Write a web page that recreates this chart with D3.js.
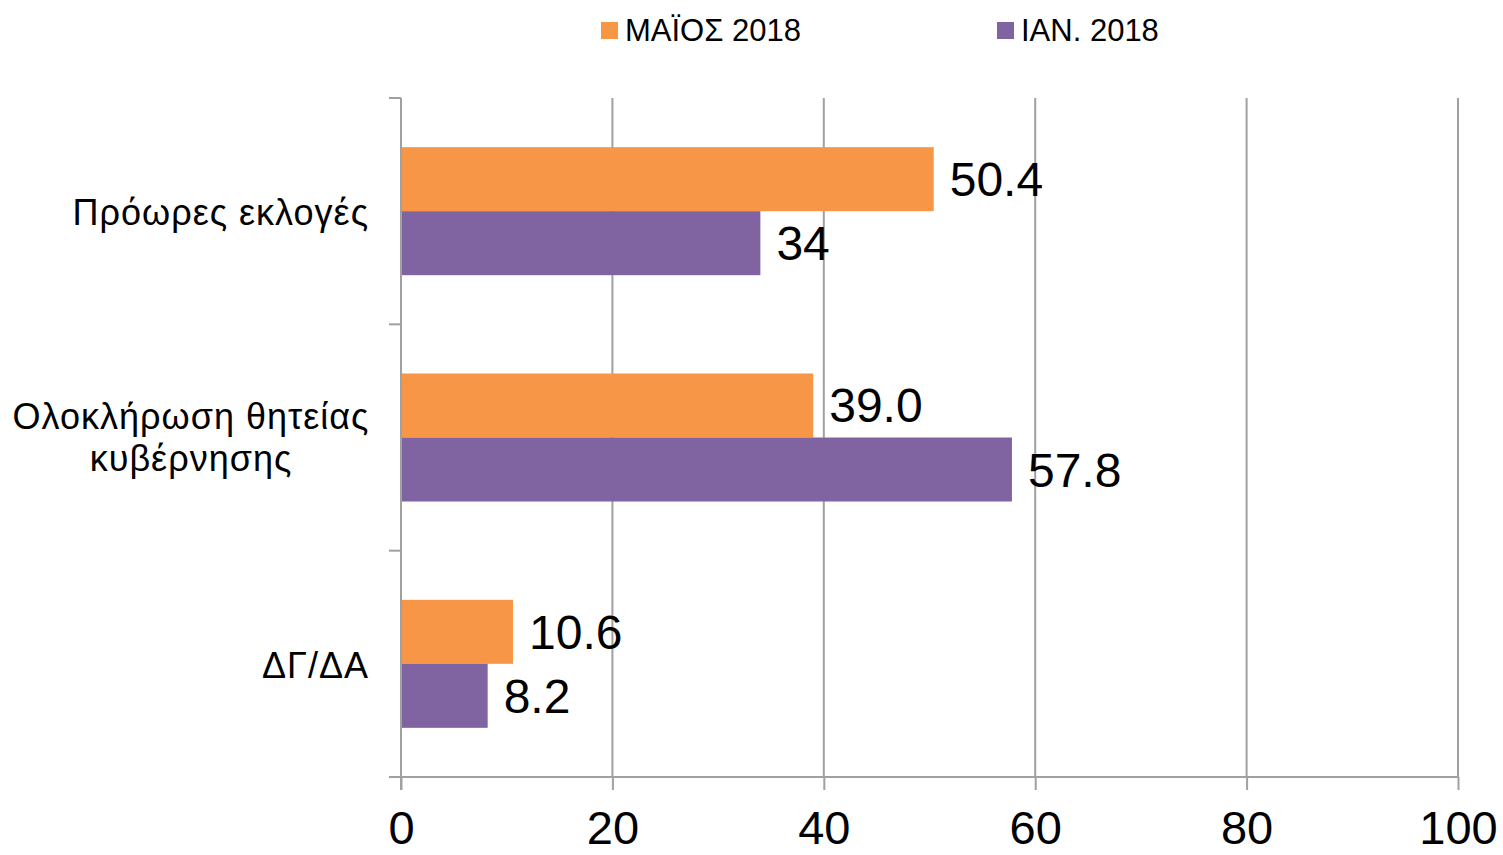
<!DOCTYPE html>
<html>
<head>
<meta charset="utf-8">
<script src="https://cdn.jsdelivr.net/npm/d3@7"></script>
<style>
  body { margin: 0; background: #fff; }
  svg { font-family: "Liberation Sans", Arial, sans-serif; }
</style>
</head>
<body>
<div id="container"></div>
<script>
// chart data
var categories = ['Πρόωρες εκλογές', 'Ολοκλήρωση θητείας κυβέρνησης', 'ΔΓ/ΔΑ'];
var categoryLines = [['Πρόωρες εκλογές'], ['Ολοκλήρωση θητείας', 'κυβέρνησης'], ['ΔΓ/ΔΑ']];
var seriesNames = ['ΜΑΪΟΣ 2018', 'ΙΑΝ. 2018'];
var may2018 = [50.4, 39.0, 10.6];
var jan2018 = [34, 57.8, 8.2];
var mayLabels = ['50.4', '39.0', '10.6'];
var janLabels = ['34', '57.8', '8.2'];
var xTicks = [0, 20, 40, 60, 80, 100];
var colors = ['#F79646', '#8064A2'];

var width = 1503, height = 855;
var margin = {top: 98, right: 45, bottom: 78, left: 401};

var svg = d3.select('#container').append('svg')
    .attr('width', width)
    .attr('height', height);

var x = d3.scaleLinear()
    .domain([0, 100])
    .range([margin.left, width - margin.right]);

var y = d3.scaleBand()
    .domain(categories)
    .range([margin.top, height - margin.bottom]);

var ySeries = d3.scaleBand()
    .domain(seriesNames)
    .range([0, y.bandwidth()])
    .paddingOuter(0.768);

var gridColor = '#a0a0a0';

// vertical gridlines
svg.append('g')
    .selectAll('line')
    .data(xTicks.slice(1))
    .enter().append('line')
    .attr('x1', function(d) { return x(d); })
    .attr('x2', function(d) { return x(d); })
    .attr('y1', margin.top)
    .attr('y2', height - margin.bottom)
    .attr('stroke', gridColor)
    .attr('stroke-width', 2);

// bottom axis
var axisX = d3.axisBottom(x)
    .tickValues(xTicks)
    .tickSize(13)
    .tickSizeOuter(0)
    .tickPadding(21);
var gx = svg.append('g')
    .attr('transform', 'translate(0,' + (height - margin.bottom) + ')')
    .call(axisX);
gx.select('.domain').attr('stroke', gridColor).attr('stroke-width', 2)
    .attr('d', 'M' + (margin.left - 12) + ',0H' + x(100));
gx.selectAll('.tick line').attr('stroke', gridColor).attr('stroke-width', 2);
gx.selectAll('.tick text')
    .attr('fill', '#000')
    .style('font-size', '47px')
    .style('font-family', '"Liberation Sans", Arial, sans-serif');

// left axis
var yEdges = [margin.top].concat(categories.map(function(c) { return y(c) + y.bandwidth(); }));
var gy = svg.append('g');
gy.append('line')
    .attr('x1', margin.left).attr('x2', margin.left)
    .attr('y1', margin.top).attr('y2', height - margin.bottom + 13)
    .attr('stroke', gridColor).attr('stroke-width', 2);
gy.selectAll('.ytick')
    .data(yEdges)
    .enter().append('line')
    .attr('class', 'ytick')
    .attr('x1', margin.left - 12).attr('x2', margin.left)
    .attr('y1', function(d) { return d; })
    .attr('y2', function(d) { return d; })
    .attr('stroke', gridColor).attr('stroke-width', 2);

// category labels
var catLabels = svg.append('g').selectAll('text')
    .data(categories)
    .enter().append('text')
    .style('font-size', '36px')
    .style('letter-spacing', '1px')
    .attr('fill', '#000');
catLabels.each(function(d, i) {
    var lines = categoryLines[i];
    var cy = y(d) + y.bandwidth() / 2;
    var lh = 42;
    var t = d3.select(this);
    lines.forEach(function(line, j) {
        t.append('tspan')
            .attr('x', lines.length > 1 ? 191 : 369)
            .attr('text-anchor', lines.length > 1 ? 'middle' : 'end')
            .attr('y', cy + (lines.length > 1 ? 12 : 14) + (j - (lines.length - 1) / 2) * lh)
            .text(line);
    });
});

// bars
var seriesData = [
    {name: seriesNames[0], values: may2018, labels: mayLabels, color: colors[0]},
    {name: seriesNames[1], values: jan2018, labels: janLabels, color: colors[1]}
];

seriesData.forEach(function(s) {
    var g = svg.append('g');
    g.selectAll('rect')
        .data(s.values)
        .enter().append('rect')
        .attr('x', x(0) + 1)
        .attr('y', function(d, i) { return y(categories[i]) + ySeries(s.name); })
        .attr('width', function(d) { return x(d) - x(0) - 1; })
        .attr('height', ySeries.bandwidth())
        .attr('fill', s.color);
    g.selectAll('text')
        .data(s.values)
        .enter().append('text')
        .attr('x', function(d) { return x(d) + 16; })
        .attr('y', function(d, i) { return y(categories[i]) + ySeries(s.name) + ySeries.bandwidth() / 2 + 17; })
        .style('font-size', '48px')
        .attr('fill', '#000')
        .text(function(d, i) { return s.labels[i]; });
});

// legend
var legendX = [601, 997];
var legend = svg.append('g').selectAll('g')
    .data(seriesData)
    .enter().append('g')
    .attr('transform', function(d, i) { return 'translate(' + legendX[i] + ',0)'; });
legend.append('rect')
    .attr('x', 0).attr('y', 22)
    .attr('width', 17).attr('height', 17)
    .attr('fill', function(d) { return d.color; });
legend.append('text')
    .attr('x', 24).attr('y', 41)
    .style('font-size', '31px')
    .attr('fill', '#000')
    .text(function(d) { return d.name; });
</script>
</body>
</html>
